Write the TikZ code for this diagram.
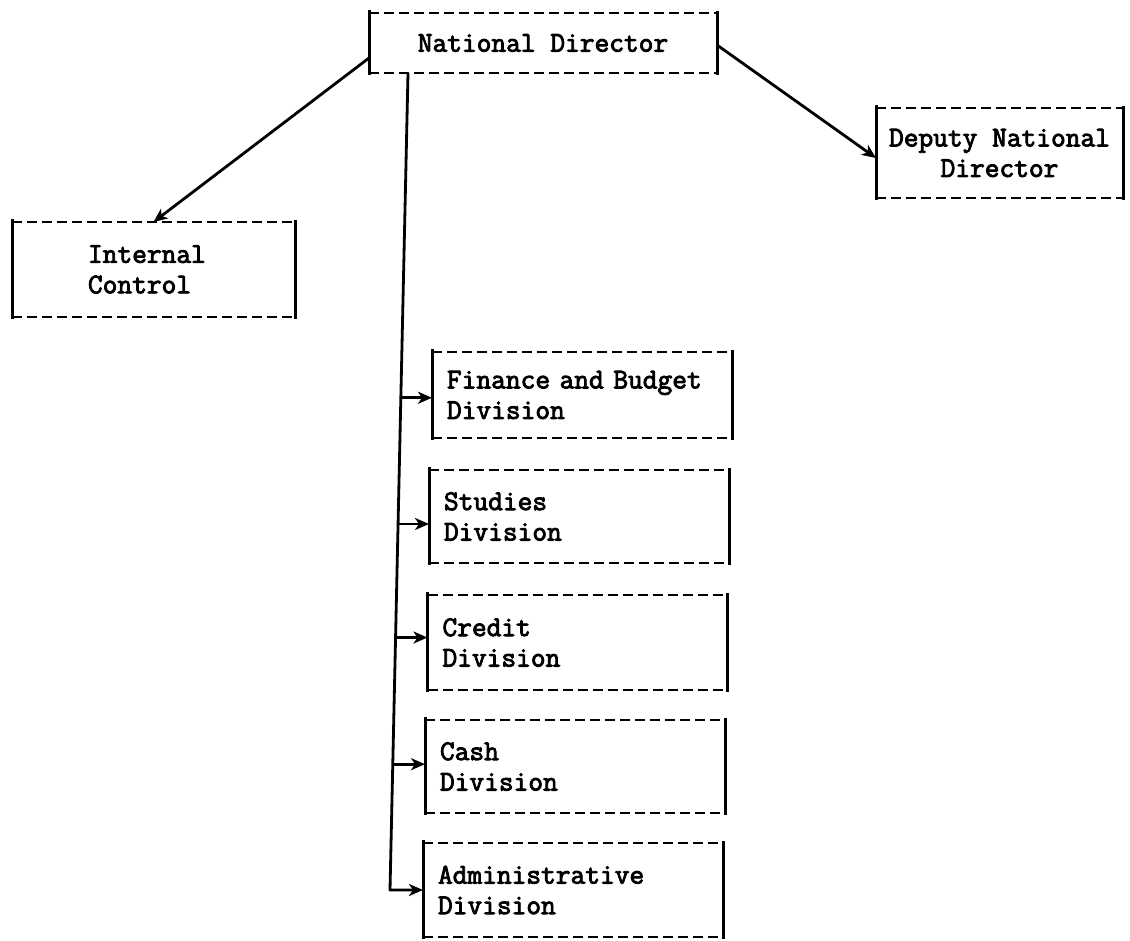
\documentclass[tikz,border=0pt]{standalone}
\usepackage{fontspec}
\setmonofont[FakeBold=3]{Latin Modern Mono}
\usetikzlibrary{arrows.meta,calc}
\begin{document}
\begin{tikzpicture}[x=1pt,y=-1pt,
  lbl/.style={font=\ttfamily\fontsize{28.6}{30.5}\selectfont, inner sep=0pt, outer sep=0pt},
  div/.style={lbl, text width=270pt, inner xsep=15pt, align=left, minimum width=300pt},
  dashline/.style={line width=2.8pt, dash pattern=on 10pt off 5pt},
  sideline/.style={line width=3pt},
  arr/.style={line width=2.8pt, -{Stealth[length=14pt,width=12pt,inset=4pt]}}
]
\useasboundingbox (0,0) rectangle (1130,941);

\node[lbl, minimum width=348pt, minimum height=60pt] (nd) at (543,43) {National Director};
\node[lbl, align=center, minimum width=247pt, minimum height=90pt] (dep) at (999.5,153) {Deputy National\\Director};
\node[lbl, align=left, text width=131pt, inner xsep=76pt, minimum width=283pt, minimum height=95pt] (ic) at (153.5,269.5) {Internal\\Control};

\node[div, minimum height=86pt] (fin) at (582,395) {Finance and Budget\\Division};
\node[div, minimum height=93pt] (stu) at (579,516.5) {Studies\\Division};
\node[div, minimum height=95pt] (cre) at (577.5,642.5) {Credit\\Division};
\node[div, minimum height=93pt] (cash) at (575,766.5) {Cash\\Division};
\node[div, minimum height=94pt] (adm) at (573,890) {Administrative\\Division};

\foreach \n in {nd,dep,ic,fin,stu,cre,cash,adm}{
  \draw[dashline] (\n.north west) -- (\n.north east);
  \draw[dashline] (\n.south west) -- (\n.south east);
  \draw[sideline] ([yshift=3pt]\n.north west) -- ([yshift=-2pt]\n.south west);
  \draw[sideline] ([yshift=2pt]\n.north east) -- ([yshift=-2pt]\n.south east);
}

\draw[arr] ([yshift=-15pt]nd.west) -- (ic.north);
\draw[arr] ([yshift=-2pt]nd.east) -- ([yshift=-5pt]dep.west);

\coordinate (ttop) at ([xshift=-135pt]nd.south);
\coordinate (tbot) at ($(adm.west)+(-33,0)$);
\coordinate (t1) at ($(ttop)!0.3975!(tbot)$);
\coordinate (t2) at ($(ttop)!0.552!(tbot)$);
\coordinate (t3) at ($(ttop)!0.691!(tbot)$);
\coordinate (t4) at ($(ttop)!0.846!(tbot)$);

\draw[arr, line join=round] (ttop) -- (tbot) -- (adm.west);
\draw[arr] (t1) -- (t1 -| fin.west);
\draw[arr] (t2) -- (t2 -| stu.west);
\draw[arr] (t3) -- (t3 -| cre.west);
\draw[arr] (t4) -- (t4 -| cash.west);
\end{tikzpicture}
\end{document}
